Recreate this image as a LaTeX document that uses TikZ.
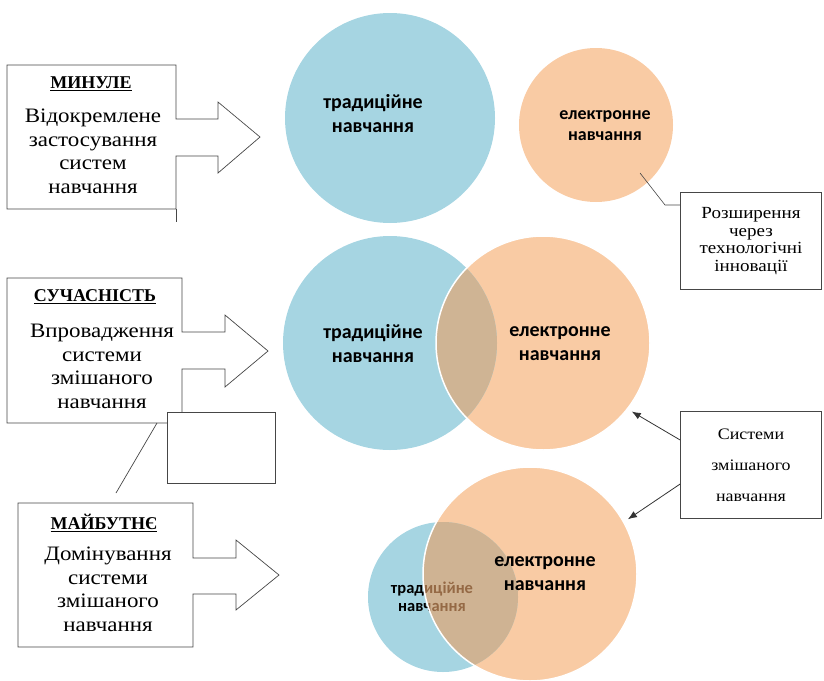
\documentclass[tikz,border=0pt]{standalone}
\usepackage{fontspec}
\setmainfont[FakeStretch=1.12]{Liberation Serif}
\newfontfamily\plainserif{Liberation Serif}
\newfontfamily\calfont{Carlito}
\usepackage{tikz}
\usetikzlibrary{arrows,arrows.meta,shapes,positioning}

\definecolor{eduBlue}{RGB}{166,213,226}
\definecolor{eduOrange}{RGB}{249,203,164}
\definecolor{eduMix}{RGB}{207,180,148}
\definecolor{eduMixT}{RGB}{229,162,106}
\definecolor{lineGray}{RGB}{70,70,70}

\begin{document}
\begin{tikzpicture}[x=1pt, y=-1pt,
    callout/.style={draw=lineGray, line width=0.7pt, fill=white},
    ptitle/.style={font=\plainserif\fontsize{18}{22}\selectfont\bfseries, inner sep=1pt},
    pbody/.style={align=center, font=\fontsize{20.5}{23.5}\selectfont, inner sep=1pt},
    blueblob/.style={circle, inner sep=0pt, fill=eduBlue},
    orangeblob/.style={circle, inner sep=0pt, fill=eduOrange},
    clabel/.style={align=center, font=\calfont\bfseries\fontsize{20}{24}\selectfont},
    note/.style={draw=lineGray, line width=0.7pt, fill=white, minimum width=141pt, align=center, font=\fontsize{17}{17.5}\selectfont},
    pointer/.style={draw=black!80, line width=0.8pt, -{Latex[length=9pt, width=7pt]}, shorten >=5pt}
  ]
  \useasboundingbox (0,0) rectangle (824,680);

  % past
  \draw[callout] (7,65) -- (176,65) -- (176,119) -- (218,119) -- (218,102) -- (260,137)
    -- (218,173) -- (218,156) -- (176,156) -- (176,209) -- (7,209) -- cycle;
  \coordinate (s1) at (176,209);
  \coordinate (s2) at (176,222);
  \draw[lineGray, line width=0.7pt] (s1) -- (s2);
  \node[ptitle] (t1) at (91,84) {\underline{МИНУЛЕ}};
  \node[pbody, below=16pt of t1, xshift=2pt] (b1) {Відокремлене\\застосування\\систем\\навчання};

  \node[blueblob, minimum size=210pt] (trad1) at (390,118) {};
  \node[orangeblob, minimum size=154pt] (eln1) at (596,125) {};
  \node[clabel] (lt1) at (373,114) {традиційне\\навчання};
  \node[clabel, font=\calfont\bfseries\fontsize{18}{21}\selectfont] (le1) at (605,126) {електронне\\навчання};

  \node[note, minimum height=97pt] (rozsh) at (751,241) {Розширення\\через\\технологічні\\інновації};
  \coordinate (k1) at (640,173);
  \coordinate (k2) at (665,205);
  \draw[lineGray, line width=0.6pt] (k1) -- (k2) -- (k2 -| rozsh.west);

  % present
  \draw[callout] (7,278) -- (182,278) -- (182,332) -- (225,332) -- (225,315) -- (268,351)
    -- (225,387) -- (225,369) -- (182,369) -- (182,423) -- (7,423) -- cycle;
  \node[ptitle] (t2) at (95,297) {\underline{СУЧАСНІСТЬ}};
  \node[pbody, below=18pt of t2, xshift=7pt] (b2) {Впровадження\\системи\\змішаного\\навчання};
  \node[draw=lineGray, line width=0.7pt, fill=white, minimum width=108pt, minimum height=71pt, inner sep=0pt] (blank) at (221,447.5) {};
  \coordinate (p1) at (157,423);
  \coordinate (p2) at (116,493);
  \draw[lineGray, line width=0.7pt] (p1) -- (p2);

  \node[orangeblob, minimum size=214pt] (eln2) at (543,343) {};
  \node[blueblob, minimum size=214pt] (trad2) at (390,343) {};
  \begin{scope}
    \clip (trad2.center) circle (107pt);
    \fill[eduMix] (eln2.center) circle (107pt);
  \end{scope}
  \draw[white, line width=1.5pt] (eln2.center) circle (107pt);
  \node[clabel] (lt2) at (373,344) {традиційне\\навчання};
  \node[clabel] (le2) at (560,344) {електронне\\навчання};

  % future
  \draw[callout] (18,503) -- (193,503) -- (193,558) -- (236,558) -- (236,540) -- (279,575)
    -- (236,610) -- (236,594) -- (193,594) -- (193,647) -- (18,647) -- cycle;
  \node[ptitle] (t3) at (104,523) {\underline{МАЙБУТНЄ}};
  \node[pbody, below=13pt of t3, xshift=4pt] (b3) {Домінування\\системи\\змішаного\\навчання};

  \node[orangeblob, minimum size=214pt] (eln3) at (530,574) {};
  \node[blueblob, minimum size=150pt] (trad3) at (443,597) {};
  \node[clabel, font=\calfont\bfseries\fontsize{16.5}{18}\selectfont] (lt3) at (432,597) {традиційне\\навчання};
  \begin{scope}
    \clip (trad3.center) circle (75pt);
    \fill[eduMixT, fill opacity=0.65] (eln3.center) circle (107pt);
  \end{scope}
  \draw[white, line width=1.5pt] (eln3.center) circle (107pt);
  \node[clabel] (le3) at (545,574) {електронне\\навчання};

  \node[note, minimum height=107pt, font=\fontsize{16}{31}\selectfont] (mixsys) at (751,465) {Системи\\змішаного\\навчання};
  \draw[pointer] ([yshift=25pt]mixsys.west) -- (eln2.-38);
  \draw[pointer] ([yshift=-19pt]mixsys.west) -- (eln3.29);
\end{tikzpicture}
\end{document}
